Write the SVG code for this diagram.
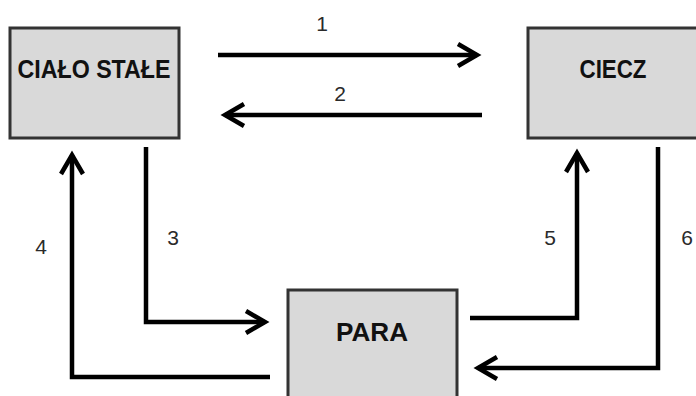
<svg xmlns="http://www.w3.org/2000/svg" width="696" height="396" viewBox="0 0 696 396">
  <style>
    .box { fill: #d9d9d9; stroke: #333; stroke-width: 3; }
    .name { font-family: "Liberation Sans", Arial, sans-serif; font-weight: bold; font-size: 25px; fill: #111; text-anchor: middle; }
    .num { font-family: "Liberation Sans", Arial, sans-serif; font-size: 21px; fill: #2a2a2a; text-anchor: middle; }
    .link { fill: none; stroke: #000; stroke-width: 4.5; stroke-linejoin: miter; marker-end: url(#head); }
  </style>
  <defs>
    <marker id="head" markerUnits="userSpaceOnUse" markerWidth="40" markerHeight="40" viewBox="-30 -20 40 40" refX="0" refY="0" orient="auto" overflow="visible">
      <path d="M-19 -11 L0 0 L-19 11" fill="none" stroke="#000" stroke-width="4.5" stroke-linejoin="miter"/>
    </marker>
  </defs>
  <rect width="696" height="396" fill="#fff"/>

  <g id="connectors">
    <path class="link" d="M218 55 H477"/>
    <path class="link" d="M482 115 H225"/>
    <path class="link" d="M146 147 V322 H265"/>
    <path class="link" d="M270 377 H72 V155"/>
    <path class="link" d="M470 318 H577 V153"/>
    <path class="link" d="M658 147 V368 H478"/>
    <text class="num" x="322" y="31">1</text>
    <text class="num" x="340" y="101">2</text>
    <text class="num" x="173" y="245">3</text>
    <text class="num" x="41" y="254">4</text>
    <text class="num" x="550" y="245">5</text>
    <text class="num" x="687" y="245">6</text>
  </g>

  <g id="cialo-stale">
    <rect class="box" x="10" y="28" width="169" height="110"/>
    <text class="name" x="94" y="78" textLength="153" lengthAdjust="spacingAndGlyphs">CIAŁO STAŁE</text>
  </g>

  <g id="ciecz">
    <rect class="box" x="528" y="28" width="180" height="110"/>
    <text class="name" x="613" y="78" textLength="67" lengthAdjust="spacingAndGlyphs">CIECZ</text>
  </g>

  <g id="para">
    <rect class="box" x="288" y="290" width="169" height="120"/>
    <text class="name" x="372" y="341" textLength="72" lengthAdjust="spacingAndGlyphs">PARA</text>
  </g>
</svg>
